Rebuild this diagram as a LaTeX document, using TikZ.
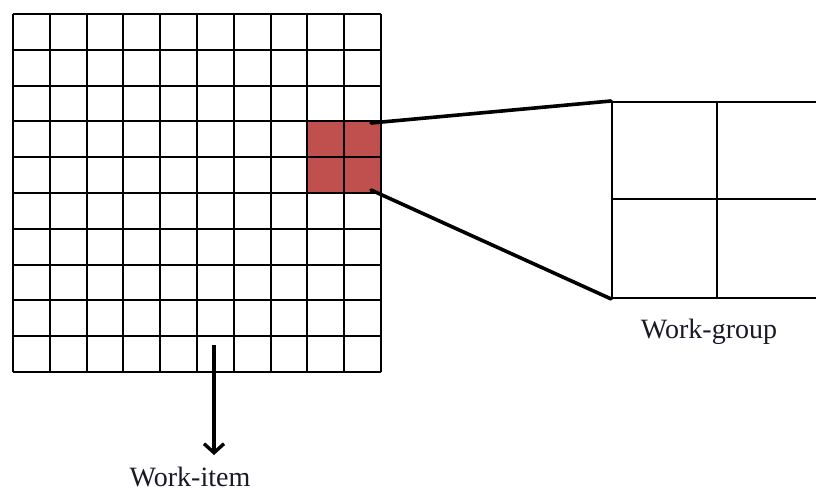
\documentclass[tikz,border=0pt]{standalone}
\usepackage{fontspec}
\setmainfont{Liberation Serif}
\usetikzlibrary{arrows.meta}
\definecolor{wgred}{RGB}{192,80,77}
\definecolor{lbl}{RGB}{25,25,40}
\tikzset{
  gridline/.style={line width=1.9pt, black},
  zoomline/.style={line width=3.6pt, black, line cap=round},
  lbltext/.style={font=\fontsize{28}{30}\selectfont, text=lbl, inner sep=0pt, anchor=base},
}
\begin{document}
\begin{tikzpicture}[x=1pt,y=-1pt]
\clip (0,0) rectangle (816,492);
\fill[white] (0,0) rectangle (816,492);
% red work-group block
\node[draw=none, fill=wgred, minimum width=73.6pt, minimum height=71.6pt, inner sep=0pt, anchor=north west] (wg) at (307.4,121.4) {};
% grid of work-items
\foreach \i in {0,...,10} {
  \draw[gridline] ({13+36.8*\i},14) -- ({13+36.8*\i},372);
  \draw[gridline] (13,{14+35.8*\i}) -- (381,{14+35.8*\i});
}
% zoomed work-group
\node[draw, line width=1.9pt, minimum width=212pt, minimum height=196pt, inner sep=0pt, anchor=north west] (big) at (611,101) {};
\draw[gridline] (717,101) -- (717,297);
\draw[gridline] (611,199) -- (823,199);
% connectors
\coordinate (a1) at (371,123);
\coordinate (a2) at (371,190);
\draw[zoomline] (a1) -- (big.north west);
\draw[zoomline] (a2) -- (big.south west);
% work-item arrow
\coordinate (wi) at (214,345);
\node[lbltext] (wilabel) at (190,486) {Work-item};
\draw[line width=3.4pt, -{Straight Barb[length=9pt,width=20pt,line width=3.4pt]}] (wi) -- (214,455);
\node[lbltext] (wglabel) at (709,338) {Work-group};
\end{tikzpicture}
\end{document}
